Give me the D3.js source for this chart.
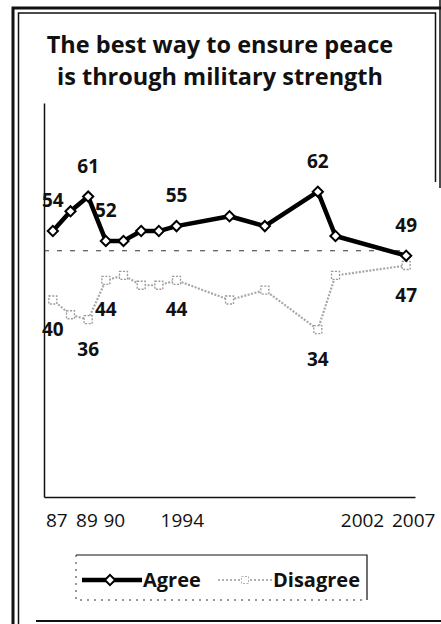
<!DOCTYPE html>
<html>
<head>
<meta charset="utf-8">
<script src="https://cdn.jsdelivr.net/npm/d3@7"></script>
<style>
	body { margin: 0; background: #fff; }
	svg { display: block; }
	.title { font-family: "Open Sans", sans-serif; font-weight: bold; font-size: 23.5px; fill: #111; }
	.lbl { font-family: "Open Sans", sans-serif; font-weight: bold; font-size: 19px; fill: #111; }
	.leg { font-family: "Open Sans", sans-serif; font-weight: bold; font-size: 20px; fill: #111; }
	.axis text { font-family: "Open Sans", sans-serif; font-size: 19px; fill: #111; }
</style>
</head>
<body>
<svg id="chart"></svg>
<script>
// survey years and percentages
let years = [1987, 1988, 1989, 1990, 1991, 1992, 1993, 1994, 1997, 1999, 2002, 2003, 2007];
let agree = [54, 58, 61, 52, 52, 54, 54, 55, 57, 55, 62, 53, 49];
let disagree = [40, 37, 36, 44, 45, 43, 43, 44, 40, 42, 34, 45, 47];

// x axis labels and where they sit on the year scale
let tickText = ["87", "89", "90", "1994", "2002", "2007"];
let tickAt = [1987.2, 1988.9, 1990.45, 1994.3, 2004.5, 2007.4];

// which years get a value label
let labelYears = [1987, 1989, 1990, 1994, 2002, 2007];

let titleLines = ["The best way to ensure peace", "is through military strength"];
let seriesNames = ["Agree", "Disagree"];

function makeChart() {
	let w = 441;
	let h = 624;

	let chart = d3.select('#chart')
		.attr('width', w)
		.attr('height', h);

	// frame
	let frame = chart.append('g').attr('stroke', '#111').attr('fill', 'none');
	frame.append('path').attr('stroke-width', 3).attr('d', 'M13,624V8H441');
	frame.append('path').attr('stroke-width', 1.5).attr('d', 'M18.5,624V13H435.5V182');
	frame.append('path').attr('stroke-width', 1.5).attr('d', 'M440,0V188');
	frame.append('path').attr('stroke-width', 2).attr('d', 'M36,621H441');

	// title
	chart.selectAll('.title')
		.data(titleLines)
		.enter()
		.append('text')
		.attr('class', 'title')
		.attr('x', 220)
		.attr('y', (d, i) => 53 + i * 32)
		.style('text-anchor', 'middle')
		.text(d => d);

	let xScale = d3.scaleLinear()
		.domain([1986.5, 2007.5])
		.range([44, 415]);

	let yScale = d3.scaleLinear()
		.domain([0, 80])
		.range([497, 103]);

	let xAxis = d3.axisBottom(xScale)
		.tickValues(tickAt)
		.tickFormat((d, i) => tickText[i])
		.tickSize(0)
		.tickSizeOuter(0)
		.tickPadding(17);

	let yAxis = d3.axisLeft(yScale)
		.tickValues([])
		.tickSizeOuter(0);

	chart.append('g')
		.attr('class', 'axis')
		.attr('transform', `translate(0, ${yScale(0)})`)
		.call(xAxis)
		.select('.domain').attr('stroke', '#111').attr('stroke-width', 1.5);

	chart.append('g')
		.attr('class', 'axis')
		.attr('transform', `translate(${xScale.range()[0]}, 0)`)
		.call(yAxis)
		.select('.domain').attr('stroke', '#111').attr('stroke-width', 1.5);

	// 50% reference line
	chart.append('line')
		.attr('x1', xScale(1986.5))
		.attr('x2', xScale(2007))
		.attr('y1', yScale(50))
		.attr('y2', yScale(50))
		.attr('stroke', '#333')
		.attr('stroke-width', 1)
		.attr('stroke-dasharray', '5,8');

	let agreeData = years.map((y, i) => ({ year: y, v: agree[i] }));
	let disData = years.map((y, i) => ({ year: y, v: disagree[i] }));

	let line = d3.line()
		.x(d => xScale(d.year))
		.y(d => yScale(d.v));

	//disagree line
	chart.append('path')
		.datum(disData)
		.style('fill', 'none')
		.style('stroke', '#a8a8a8')
		.attr('stroke-width', 2.2)
		.attr('stroke-dasharray', '2,1.5')
		.attr('d', line);

	chart.selectAll('.dmark')
		.data(disData)
		.enter()
		.append('path')
		.attr('class', 'dmark')
		.attr('d', d3.symbol(d3.symbolSquare, 64))
		.attr('transform', d => `translate(${xScale(d.year)}, ${yScale(d.v)})`)
		.style('fill', '#fff')
		.style('stroke', '#9a9a9a')
		.attr('stroke-width', 1.3)
		.attr('stroke-dasharray', '2,1.5');

	//agree line
	chart.append('path')
		.datum(agreeData)
		.style('fill', 'none')
		.style('stroke', '#000')
		.attr('stroke-width', 4.5)
		.attr('stroke-linejoin', 'round')
		.attr('d', line);

	chart.selectAll('.amark')
		.data(agreeData)
		.enter()
		.append('path')
		.attr('class', 'amark')
		.attr('d', d3.symbol(d3.symbolSquare, 52))
		.attr('transform', d => `translate(${xScale(d.year)}, ${yScale(d.v)}) rotate(45)`)
		.style('fill', '#fff')
		.style('stroke', '#000')
		.attr('stroke-width', 2);

	// value labels
	chart.selectAll('.alabel')
		.data(agreeData.filter(d => labelYears.includes(d.year)))
		.enter()
		.append('text')
		.attr('class', 'lbl')
		.attr('x', d => xScale(d.year))
		.attr('y', d => yScale(d.v) - 24)
		.style('text-anchor', 'middle')
		.text(d => d.v);

	chart.selectAll('.dlabel')
		.data(disData.filter(d => labelYears.includes(d.year)))
		.enter()
		.append('text')
		.attr('class', 'lbl')
		.attr('x', d => xScale(d.year))
		.attr('y', d => yScale(d.v) + 36)
		.style('text-anchor', 'middle')
		.text(d => d.v);

	// LEGEND
	let legend = chart.append('g');
	legend.append('path')
		.attr('d', 'M76,555H367V600')
		.attr('fill', 'none')
		.attr('stroke', '#111')
		.attr('stroke-width', 1.2);
	legend.append('path')
		.attr('d', 'M76,555V600H367')
		.attr('fill', 'none')
		.attr('stroke', '#333')
		.attr('stroke-width', 1)
		.attr('stroke-dasharray', '2,5');

	let ly = 580;
	legend.append('line')
		.attr('x1', 82).attr('x2', 142)
		.attr('y1', ly).attr('y2', ly)
		.attr('stroke', '#000')
		.attr('stroke-width', 4.5);
	legend.append('path')
		.attr('d', d3.symbol(d3.symbolSquare, 52))
		.attr('transform', `translate(110, ${ly}) rotate(45)`)
		.style('fill', '#fff')
		.style('stroke', '#000')
		.attr('stroke-width', 2);
	legend.append('line')
		.attr('x1', 218).attr('x2', 272)
		.attr('y1', ly).attr('y2', ly)
		.attr('stroke', '#b0b0b0')
		.attr('stroke-width', 2)
		.attr('stroke-dasharray', '2,2');
	legend.append('path')
		.attr('d', d3.symbol(d3.symbolSquare, 49))
		.attr('transform', `translate(245, ${ly})`)
		.style('fill', '#fff')
		.style('stroke', '#b0b0b0')
		.attr('stroke-width', 1)
		.attr('stroke-dasharray', '2,1.5');

	legend.selectAll('.ltext')
		.data(seriesNames)
		.enter()
		.append('text')
		.attr('class', 'leg')
		.attr('x', (d, i) => i === 0 ? 143 : 273)
		.attr('y', ly + 7)
		.text(d => d);
}

window.onload = function () {
	makeChart();
}
</script>
</body>
</html>
